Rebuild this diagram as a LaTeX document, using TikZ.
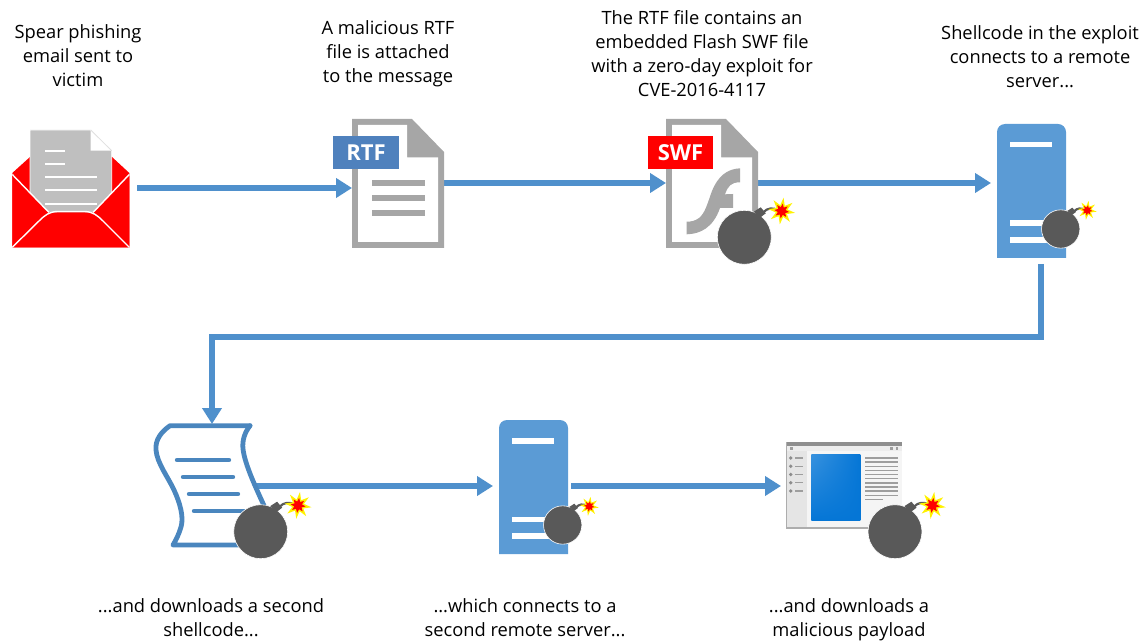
\documentclass[tikz,border=0pt]{standalone}
\usepackage{fontspec}
\setmainfont{Open Sans}
\usetikzlibrary{arrows.meta,shadings}
\definecolor{link}{HTML}{4F90CC}
\definecolor{srvblue}{HTML}{5B9BD5}
\definecolor{tagblue}{HTML}{4F81BD}
\definecolor{scrollblue}{HTML}{4A86BE}
\definecolor{docgray}{HTML}{A6A6A6}
\definecolor{papergray}{HTML}{BFBFBF}
\definecolor{bombgray}{HTML}{595959}
\definecolor{winblue}{HTML}{0576D6}
\tikzset{
  icon/.style={shape=rectangle,inner sep=0pt,outer sep=0pt},
  caption/.style={align=center,inner sep=0pt,font=\fontsize{18.3}{24}\selectfont},
  tagtext/.style={inner sep=0pt,text=white,font=\fontsize{22}{24}\selectfont\bfseries},
  flow/.style={draw=link,line width=5.2pt,-{Triangle[length=16pt,width=19pt]}},
  pics/bomb/.style={code={
    \fill[bombgray,draw=white,line width=.6pt] (0,0) circle (27);
    \fill[bombgray] (9.5,-25.6)--(16.4,-30)--(21.5,-24)--(15.7,-19.6)--cycle;
    \draw[bombgray,line width=2.2pt] (19,-25) .. controls (23,-29.5) and (29,-30) .. (34,-27);
    \fill[yellow] plot[samples at={0,22.5,...,337.5},variable=\a] ({37.4+(mod(\a,45)==0?13.5:6)*cos(\a+8)},{-26.3+(mod(\a,45)==0?13.5:6)*sin(\a+8)}) -- cycle;
    \fill[red] plot[samples at={0,22.5,...,337.5},variable=\a] ({37.4+(mod(\a,45)==0?7.5:4)*cos(\a+8)},{-26.3+(mod(\a,45)==0?7.5:4)*sin(\a+8)}) -- cycle;
  }},
  pics/server/.style={code={
    \fill[srvblue] (0,134) [rounded corners=8pt] -- (0,0) -- (69,0) [sharp corners] -- (69,134) -- cycle;
    \fill[white] (13,18) rectangle (55,23.5);
    \fill[white] (13,96.5) rectangle (55,102);
    \fill[white] (13,113) rectangle (55,119);
  }},
  pics/docfile/.style={code={
    \fill[docgray] (0,0) -- (60,0) -- (92,33) -- (92,129) -- (0,129) -- cycle;
    \fill[white] (6,6) -- (55,6) -- (55,38.5) -- (86,38.5) -- (86,123) -- (6,123) -- cycle;
  }}
}
\begin{document}
\begin{tikzpicture}[x=1pt,y=-1pt]
\useasboundingbox (0,0) rectangle (1148,644);
% placement nodes
\node[icon,minimum width=126pt,minimum height=120pt] (mail) at (74,188) {};
\node[icon,minimum width=92pt,minimum height=130pt] (rtf) at (398,188) {};
\node[icon,minimum width=92pt,minimum height=130pt] (swf) at (712,183) {};
\node[icon,minimum width=100pt,minimum height=162pt] (srvA) at (1041,183) {};
\node[icon,minimum width=86pt,minimum height=124pt] (scroll) at (212,486) {};
\node[icon,minimum width=78pt,minimum height=134pt] (srvB) at (532,486) {};
\node[icon,minimum width=124pt,minimum height=90pt] (win) at (843,486) {};
\coordinate (bend) at (600,337);
% connectors
\draw[flow] (mail.east) -- (rtf.west);
\draw[flow] ([yshift=5pt]rtf.east) -- (swf.west);
\draw[flow] (swf.east) -- (srvA.west);
\draw[flow] (srvA.south) -- (srvA.south |- bend) -- (scroll.north |- bend) -- (scroll.north);
\draw[flow] (scroll.east) -- (srvB.west);
\draw[flow] (srvB.east) -- (win.west);
% envelope
\fill[red] (12.3,173) -- (30,157) -- (112,157) -- (129.3,173) -- (129.3,247.3) -- (12.3,247.3) -- cycle;
\fill[papergray,draw=white,line width=.8pt] (30,215) -- (30,130) -- (90.7,130) -- (111.7,150.7) -- (111.7,215) -- cycle;
\fill[white] (90.7,130) -- (111.7,150.7) -- (90.7,150.7) -- cycle;
\draw[white!88!black,line width=.8pt] (90.7,130) -- (111.7,150.7);
\foreach \yy/\xe in {150.7/65,164/65,177.3/96.7,190.3/96.7,204/96.7}
  \fill[white] (45,\yy-1) rectangle (\xe,\yy+1);
\fill[red] (12.3,174.5) -- (49,212.5) -- (93,212.5) -- (129.3,174.5) -- (129.3,247.3) -- (12.3,247.3) -- cycle;
\draw[white,line width=1.4pt] (12.3,174.5) -- (49,212.5);
\draw[white,line width=1.4pt] (129.3,174.5) -- (93,212.5);
\draw[white,line width=1.4pt] (12.3,247.3) -- (39,221) .. controls (45,215) and (49,212) .. (57,211.5) -- (85,211.5) .. controls (93,212) and (97,215) .. (103,221) -- (129.3,247.3);
% RTF file
\pic at (352,119) {docfile};
\foreach \yy in {183,198,213}
  \fill[docgray] (372,\yy-2.7) rectangle (425,\yy+2.7);
\node[icon,fill=tagblue,minimum width=66pt,minimum height=33pt] (rtftag) at (366,152.5) {};
\node[tagtext] (rtflabel) at (366,152.5) {RTF};
% SWF file
\pic at (666,119) {docfile};
\fill[docgray] (740,168.3) .. controls (727,169) and (718,176) .. (711.7,191.7)
  .. controls (707,205) and (705,213) .. (699,218) .. controls (695,221) and (691,221.7) .. (686.7,221.7)
  -- (686.7,234.3) .. controls (700,234) and (713,228) .. (720,208) -- (733,208) -- (733,194) -- (725,194.3)
  .. controls (728,186) and (731,182.3) .. (740,182.3) -- cycle;
\node[icon,fill=red,minimum width=65pt,minimum height=33pt] (swftag) at (680.5,152.5) {};
\node[tagtext] (swflabel) at (680.5,152.5) {SWF};
\pic at (744.3,237.3) {bomb};
% server A
\pic at (997,124) {server};
\pic[scale=.71] at (1060.7,229) {bomb};
% scroll
\draw[scrollblue,line width=4.8pt,line cap=round,line join=round]
  (250,425.7) -- (170,425.7) .. controls (161,432) and (155,440) .. (156,450)
  .. controls (157,463) and (168,477) .. (174,490) .. controls (180,503) and (184,517) .. (181,527)
  .. controls (179,534) and (176,540) .. (173,545) -- (255,545);
\draw[scrollblue,line width=4.8pt,line cap=round]
  (250,425.7) .. controls (245,432) and (242,440) .. (243,449) .. controls (245,465) and (256,488) .. (266,510);
\foreach \yy/\xa/\xb in {460/177/229,477/183/233,494/189/238,511/194/250}
  \draw[scrollblue,line width=4.4pt,line cap=round] (\xa,\yy) -- (\xb,\yy);
\pic at (260.7,531.7) {bomb};
% server B
\pic at (499,420) {server};
\pic[scale=.71] at (562.7,525) {bomb};
% window
\fill[white!96!black] (786,442) rectangle (902,528);
\fill[white!90!black] (786,446) rectangle (807.3,528);
\fill[white!93!black] (786,446) rectangle (902,451);
\fill[white!56!black] (786,442) rectangle (902,446);
\fill[white!68!black] (786,527) rectangle (902,528.5);
\draw[white!68!black,line width=.5pt] (786,442) -- (786,528);
\foreach \xx in {790,890,895.5} \fill[white!62!black] (\xx,447) rectangle (\xx+2.8,449.8);
\shade[upper left=winblue!80!white,upper right=winblue,lower left=winblue,lower right=winblue] (811.3,454.7) rectangle (860.3,520);
\foreach \yy in {458,462.1,466.2,470.4,474.5,478.6,482.8,486.9,491,495.2}
  \fill[white!62!black] (864.7,\yy-.7) rectangle (897.7,\yy+.7);
\fill[white!62!black] (864.7,498.6) rectangle (882.7,500);
\foreach \yy in {458,466.2,474.5,482.7,491}{
  \fill[white!55!black] (790.7,\yy) circle (1.9);
  \fill[white!62!black] (795,\yy-.7) rectangle (803.3,\yy+.7);
}
\pic at (895,531.7) {bomb};
% captions
\node[caption] (t1) at (78,56) {Spear phishing\\email sent to\\victim};
\node[caption] (t2) at (388,54) {A malicious RTF\\file is attached\\to the message};
\node[caption] (t3) at (702,54) {The RTF file contains an\\embedded Flash SWF file\\with a zero-day exploit for\\CVE-2016-4117};
\node[caption] (t4) at (1040,57) {Shellcode in the exploit\\connects to a remote\\server...};
\node[caption] (t5) at (211,618) {...and downloads a second\\shellcode...};
\node[caption] (t6) at (525,618) {...which connects to a\\second remote server...};
\node[caption] (t7) at (849,620) {...and downloads a\\malicious payload};
\end{tikzpicture}
\end{document}
